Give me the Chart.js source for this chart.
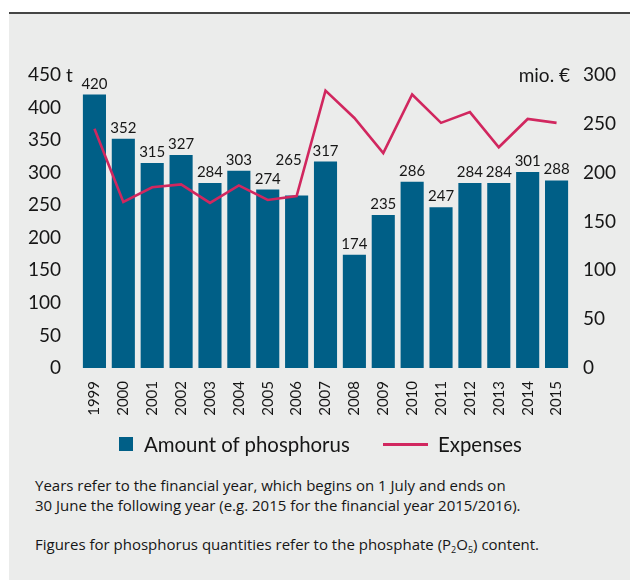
<!DOCTYPE html>
<html>
<head>
<meta charset="utf-8">
<script src="https://cdn.jsdelivr.net/npm/chart.js@4/dist/chart.umd.min.js"></script>
<style>
  html, body { margin: 0; padding: 0; background: #ffffff; }
  body { width: 630px; height: 580px; position: relative; overflow: hidden; font-family: Lato, "Open Sans", sans-serif; color: #161616; }
  .panel { position: absolute; left: 9px; top: 14px; right: 0; bottom: 0; background: #ebeceb; }
  .rule { position: absolute; left: 9px; top: 12px; right: 0; height: 2px; background: #454545; }
  #chart { position: absolute; left: 9px; top: 14px; }
  .legend { position: absolute; top: 433px; left: 0; width: 630px; height: 22px; font-size: 20.4px; line-height: 22px; }
  .legend .item { position: absolute; top: 0; white-space: nowrap; }
  .legend .box { position: absolute; top: 4px; width: 14px; height: 14px; background: #005f87; }
  .legend .ln { position: absolute; top: 10px; height: 3px; background: #d1275f; }
  .note { position: absolute; left: 35px; font-family: "Open Sans", Lato, sans-serif; font-size: 15px; line-height: 20px; white-space: nowrap; }
  .note sub { font-size: 9px; vertical-align: -3px; line-height: 0; }
</style>
</head>
<body>
<div class="panel"></div>
<div class="rule"></div>
<canvas id="chart" width="621" height="420"></canvas>
<div class="legend">
  <div class="box" style="left:119px"></div>
  <div class="item" style="left:144px">Amount of phosphorus</div>
  <div class="ln" style="left:383px;width:45px"></div>
  <div class="item" style="left:438px">Expenses</div>
</div>
<div class="note" style="top:475px">Years refer to the financial year, which begins on 1 July and ends on<br>30 June the following year (e.g. 2015 for the financial year 2015/2016).</div>
<div class="note" style="top:534px">Figures for phosphorus quantities refer to the phosphate (P<sub>2</sub>O<sub>5</sub>) content.</div>

<script>
// Financial years
const years = ['1999','2000','2001','2002','2003','2004','2005','2006','2007','2008','2009','2010','2011','2012','2013','2014','2015'];
// Amount of phosphorus, tonnes (P2O5)
const amounts = [420, 352, 315, 327, 284, 303, 274, 265, 317, 174, 235, 286, 247, 284, 284, 301, 288];
// Expenses, million euro
const expenses = [245, 170, 185, 188, 169, 187, 172, 176, 284, 256, 220, 280, 251, 262, 226, 255, 251];
// Axis ticks
const leftTicks = [0, 50, 100, 150, 200, 250, 300, 350, 400, 450];
const rightTicks = [0, 50, 100, 150, 200, 250, 300];

const FONT = 'Lato, "Open Sans", sans-serif';
const INK = '#161616';

// Value labels that would sit on the expenses line are lifted clear of it
const labelShift = { '2006': [-8, -24] };

// Value labels above bars plus unit captions at the top of both axes
const annotate = {
  id: 'annotate',
  afterDatasetsDraw(chart) {
    const ctx = chart.ctx;
    ctx.save();
    ctx.fillStyle = INK;
    ctx.font = '15px ' + FONT;
    ctx.textAlign = 'center';
    ctx.textBaseline = 'alphabetic';
    const meta = chart.getDatasetMeta(1);
    meta.data.forEach((bar, i) => {
      const s = labelShift[years[i]] || [0, 0];
      ctx.fillText(String(amounts[i]), bar.x + s[0], bar.y - 6 + s[1]);
    });
    ctx.font = '19px ' + FONT;
    ctx.textBaseline = 'middle';
    const yl = chart.scales.y;
    ctx.textAlign = 'left';
    ctx.fillText('t', yl.right - 14, yl.getPixelForValue(450) + 1);
    const yr = chart.scales.y1;
    ctx.textAlign = 'right';
    ctx.fillText('mio. €', yr.left - 1, yr.getPixelForValue(300) + 1);
    ctx.restore();
  }
};

new Chart(document.getElementById('chart'), {
  type: 'bar',
  data: {
    labels: years,
    datasets: [
      {
        type: 'line',
        label: 'Expenses',
        data: expenses,
        yAxisID: 'y1',
        borderColor: '#d1275f',
        borderWidth: 2.6,
        pointRadius: 0,
        tension: 0,
        fill: false,
        order: 0
      },
      {
        type: 'bar',
        label: 'Amount of phosphorus',
        data: amounts,
        yAxisID: 'y',
        backgroundColor: '#005f87',
        barPercentage: 0.8,
        categoryPercentage: 1.0,
        order: 1
      }
    ]
  },
  options: {
    responsive: false,
    animation: false,
    layout: { padding: { top: 61, left: 0, right: 0, bottom: 0 } },
    plugins: { legend: { display: false }, tooltip: { enabled: false } },
    scales: {
      x: {
        grid: { display: false, drawTicks: false },
        border: { display: false },
        ticks: {
          color: INK,
          font: { family: FONT, size: 15 },
          minRotation: 90,
          maxRotation: 90,
          padding: 13,
          autoSkip: false
        },
        afterFit(scale) { scale.height = 66; }
      },
      y: {
        position: 'left',
        min: 0,
        max: 450,
        afterBuildTicks(scale) { scale.ticks = leftTicks.map(v => ({ value: v })); },
        grid: { display: false, drawTicks: false },
        border: { display: false },
        ticks: { color: INK, font: { family: FONT, size: 19 }, padding: 19 },
        afterFit(scale) { scale.width = 71; }
      },
      y1: {
        position: 'right',
        min: 0,
        max: 300,
        afterBuildTicks(scale) { scale.ticks = rightTicks.map(v => ({ value: v })); },
        grid: { display: false, drawTicks: false },
        border: { display: false },
        ticks: { color: INK, font: { family: FONT, size: 19 }, padding: 12 },
        afterFit(scale) { scale.width = 59; }
      }
    }
  },
  plugins: [annotate]
});
</script>
</body>
</html>
